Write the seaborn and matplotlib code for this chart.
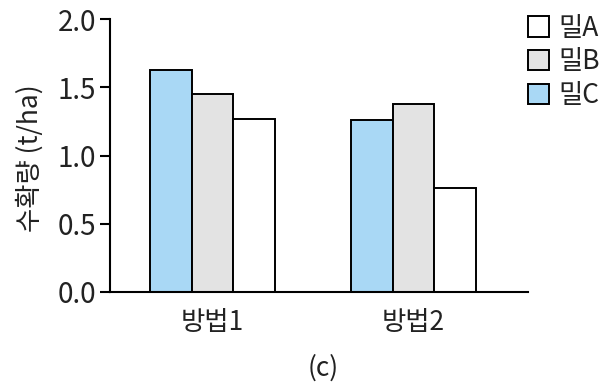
import matplotlib
matplotlib.use("Agg")
import matplotlib.pyplot as plt
from matplotlib.patches import Patch
import seaborn as sns
import pandas as pd

# Yield per method and wheat variety (t/ha)
methods = ["방법1", "방법2"]
varieties = ["밀C", "밀B", "밀A"]
yield_c = [1.63, 1.26]
yield_b = [1.45, 1.38]
yield_a = [1.27, 0.76]
y_ticks = [0.0, 0.5, 1.0, 1.5, 2.0]

colors = {"밀A": "#FFFFFF", "밀B": "#E3E3E3", "밀C": "#A9D8F5"}

rows = []
for var, vals in zip(varieties, [yield_c, yield_b, yield_a]):
    for m, v in zip(methods, vals):
        rows.append({"method": m, "variety": var, "yield": v})
df = pd.DataFrame(rows)

sns.set_theme(style="white")
plt.rcParams["font.family"] = ["Noto Sans CJK KR", "DejaVu Sans"]

fig = plt.figure(figsize=(6.14, 3.83), dpi=100)
ax = fig.add_axes([0.179, 0.2376, 0.681, 0.7124])

sns.barplot(data=df, x="method", y="yield", hue="variety",
            order=methods, hue_order=varieties, palette=colors,
            saturation=1, width=0.62, edgecolor="black", linewidth=1.4,
            errorbar=None, legend=False, ax=ax)

ax.set_xlim(-0.51, 1.57)
ax.set_ylim(0, 2.0)
ax.set_yticks(y_ticks)
ax.set_yticklabels([f"{t:.1f}" for t in y_ticks])
ax.set_xlabel("")
ax.set_ylabel("수확량 (t/ha)", fontsize=19, color="#222222")
ax.yaxis.set_label_coords(-0.158, 0.49)

for side in ["top", "right"]:
    ax.spines[side].set_visible(False)
for side in ["left", "bottom"]:
    ax.spines[side].set_color("black")
    ax.spines[side].set_linewidth(1.5)

ax.tick_params(axis="y", left=True, direction="out", length=7, width=1.5,
               labelsize=20, pad=3, colors="black", labelcolor="#222222")
ax.tick_params(axis="x", bottom=False, labelsize=19, pad=6, labelcolor="#222222")

handles = [Patch(facecolor=colors[v], edgecolor="black", linewidth=1.4)
           for v in ["밀A", "밀B", "밀C"]]
fig.legend(handles, ["밀A", "밀B", "밀C"], loc="upper left",
           bbox_to_anchor=(0.83, 1.01), frameon=False, fontsize=19,
           handlelength=0.8, handleheight=0.8, handletextpad=0.35,
           labelspacing=0.25, borderaxespad=0.3, labelcolor="#222222")

fig.text(0.526, 0.04, "(c)", ha="center", va="center", fontsize=19, color="#222222")

fig.savefig("out.png", dpi=100)
